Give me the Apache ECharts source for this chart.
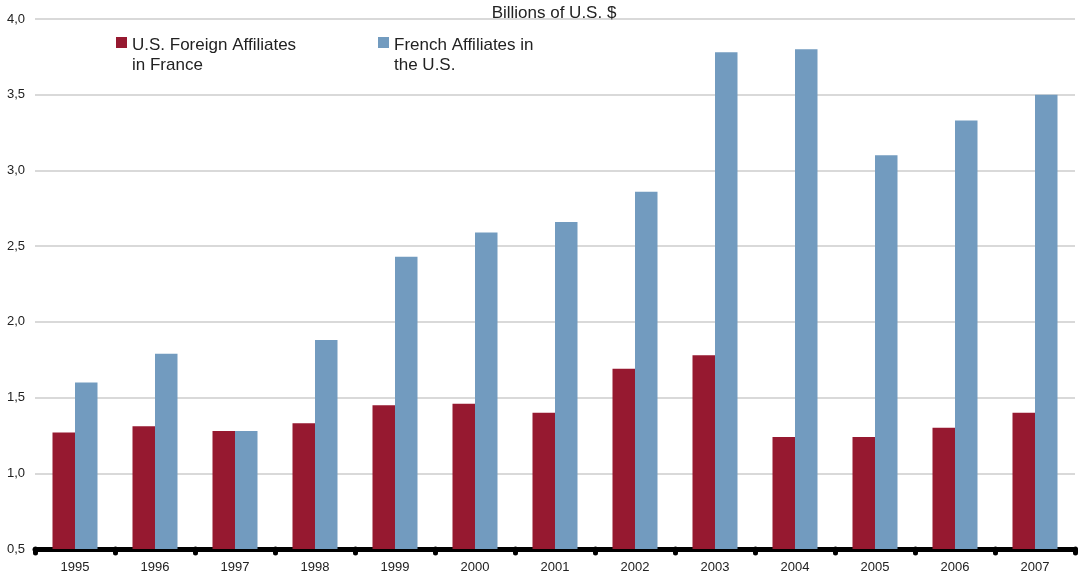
<!DOCTYPE html>
<html>
<head>
<meta charset="utf-8">
<script src="https://cdn.jsdelivr.net/npm/echarts@6/dist/echarts.min.js"></script>
<style>
  html, body { margin: 0; padding: 0; background: #fff; }
  #chart { width: 1078px; height: 578px; }
</style>
</head>
<body>
<div id="chart"></div>
<script>
// years on the x axis
const years = ["1995", "1996", "1997", "1998", "1999", "2000", "2001",
  "2002", "2003", "2004", "2005", "2006", "2007"];
// billions of US $
const usAffiliatesFrance = [1.27, 1.31, 1.28, 1.33, 1.45, 1.46, 1.40, 1.69, 1.78, 1.24, 1.24, 1.30, 1.40];
const frenchAffiliatesUS = [1.60, 1.79, 1.28, 1.88, 2.43, 2.59, 2.66, 2.86, 3.78, 3.80, 3.10, 3.33, 3.50];

const RED = "#961930";
const BLUE = "#729bbf";

const chart = echarts.init(document.getElementById("chart"));

// square sits in the top of a taller (empty) icon box so it lines up with the first text line
const squareIcon = "path://M0,0L11,0L11,11L0,11Z M0,36L0,36Z";
const legendText = { fontSize: 17, color: "#222", lineHeight: 20 };

chart.setOption({
  animation: false,
  textStyle: { fontFamily: "Liberation Sans, Arial, sans-serif", color: "#222" },
  title: {
    text: "Billions of U.S. $",
    left: 549,
    textAlign: "center",
    top: 0,
    textStyle: { fontSize: 17, fontWeight: "normal", color: "#222" },
  },
  legend: [
    {
      data: ["U.S. Foreign Affiliates\nin France"],
      left: 116, top: 35, padding: 0,
      icon: squareIcon, itemWidth: 11, itemHeight: 36,
      textStyle: legendText,
    },
    {
      data: ["French Affiliates in\nthe U.S."],
      left: 378, top: 35, padding: 0,
      icon: squareIcon, itemWidth: 11, itemHeight: 36,
      textStyle: legendText,
    },
  ],
  grid: { left: 35, right: 3, top: 19, bottom: 29, containLabel: false },
  xAxis: {
    type: "category",
    data: years,
    axisLine: { lineStyle: { color: "#000", width: 5 } },
    axisTick: {
      show: true, alignWithLabel: false, length: 4,
      lineStyle: { color: "#000", width: 5, cap: "round" },
    },
    axisLabel: { fontSize: 13, color: "#222", margin: 12 },
  },
  yAxis: {
    type: "value",
    min: 0.5, max: 4.0, interval: 0.5,
    axisLine: { show: false },
    axisTick: { show: false },
    axisLabel: {
      fontSize: 13, color: "#222", margin: 10,
      formatter: v => v.toFixed(1).replace(".", ","),
    },
    splitLine: { lineStyle: { color: "#d9d9d9", width: 2 } },
  },
  series: [
    {
      name: "U.S. Foreign Affiliates\nin France",
      type: "bar",
      data: usAffiliatesFrance,
      barWidth: 22.5,
      barGap: "0%",
      itemStyle: { color: RED },
    },
    {
      name: "French Affiliates in\nthe U.S.",
      type: "bar",
      data: frenchAffiliatesUS,
      barWidth: 22.5,
      barGap: "0%",
      itemStyle: { color: BLUE },
    },
  ],
});
</script>
</body>
</html>
